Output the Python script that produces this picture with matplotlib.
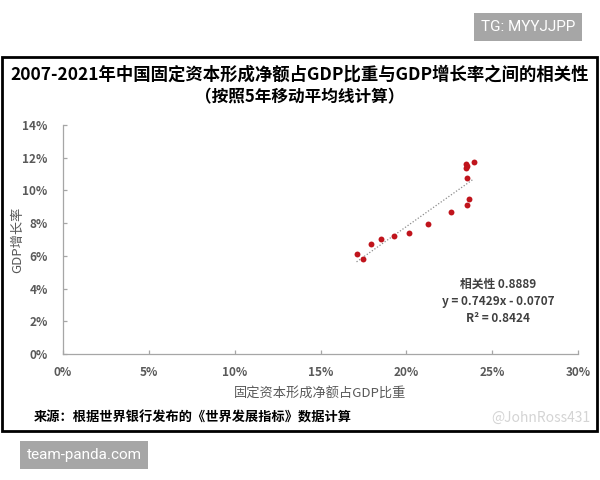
import matplotlib
matplotlib.use("Agg")
import matplotlib.pyplot as plt
from matplotlib.patches import Rectangle
import numpy as np

plt.rcParams['font.family'] = ['Noto Sans CJK SC', 'DejaVu Sans']

# Data (percent)
fcf_share = [17.10, 17.45, 17.94, 18.50, 19.26, 20.13, 21.26, 22.58,
             23.55, 23.66, 23.51, 23.50, 23.45, 23.55, 23.92]
gdp_growth = [6.09, 5.79, 6.70, 7.03, 7.22, 7.41, 7.97, 8.70,
              9.11, 9.47, 10.74, 11.35, 11.60, 11.50, 11.75]
slope = 0.7429
intercept = -0.0707
x_ticks = [0, 5, 10, 15, 20, 25, 30]
y_ticks = [0, 2, 4, 6, 8, 10, 12, 14]

fig = plt.figure(figsize=(6, 4.8), dpi=100)
fig.patch.set_facecolor('white')

# frame box
fig.patches.append(Rectangle((2/600, 1-431/480), 595/600, 374/480,
                             transform=fig.transFigure, fill=False,
                             edgecolor='black', linewidth=2.0))

ax = fig.add_axes([63/600, 1-354/480, 515/600, 229/480])
ax.scatter(fcf_share, gdp_growth, s=18, color='#C0141C', zorder=3, linewidths=0)
xs = np.array([min(fcf_share), max(fcf_share)])
ax.plot(xs, slope*xs + intercept*100, linestyle=(0, (1, 1.5)), color='#8c8c8c',
        linewidth=0.9, zorder=2)

ax.set_xlim(0, 30)
ax.set_ylim(0, 14)
ax.set_xticks(x_ticks)
ax.set_yticks(y_ticks)
ax.set_xticklabels([f'{v}%' for v in x_ticks], fontsize=8.5, fontweight='bold', color='#595959')
ax.set_yticklabels([f'{v}%' for v in y_ticks], fontsize=8.5, fontweight='bold', color='#595959')
for s in ['top', 'right']:
    ax.spines[s].set_visible(False)
for s in ['left', 'bottom']:
    ax.spines[s].set_color('#a6a6a6')
    ax.spines[s].set_linewidth(0.9)
ax.tick_params(axis='both', direction='in', length=3, color='#a6a6a6', width=0.9)
ax.tick_params(axis='y', pad=11)
ax.tick_params(axis='x', pad=9)

ax.set_xlabel('固定资本形成净额占GDP比重', fontsize=9.5, color='#595959', labelpad=6)
ax.set_ylabel('GDP增长率', fontsize=9.5, color='#595959', va='center')
ax.yaxis.set_label_coords(-0.088, 0.5)

# annotation
ax.text(0.845, 0.305, '相关性 0.8889', transform=ax.transAxes, ha='center', va='center',
        fontsize=8.5, color='#404040', fontweight='bold')
ax.text(0.845, 0.23, 'y = 0.7429x - 0.0707', transform=ax.transAxes, ha='center', va='center',
        fontsize=8.5, color='#404040', fontweight='bold')
ax.text(0.845, 0.155, 'R² = 0.8424', transform=ax.transAxes, ha='center', va='center',
        fontsize=8.5, color='#404040', fontweight='bold')

# titles
fig.text(0.5, 1-75/480, '2007-2021年中国固定资本形成净额占GDP比重与GDP增长率之间的相关性',
         ha='center', va='center', fontsize=12.5, fontweight='bold', color='black')
fig.text(0.5, 1-97/480, '（按照5年移动平均线计算）',
         ha='center', va='center', fontsize=12, fontweight='bold', color='black')

# source
fig.text(34/600, 1-418/480, '来源：根据世界银行发布的《世界发展指标》数据计算',
         ha='left', va='center', fontsize=9.5, fontweight='bold', color='black')
fig.text(590/600, 1-418/480, '@JohnRoss431', ha='right', va='center',
         fontsize=10, color='#d4d4d4')

# grey label boxes
fig.text(528/600, 1-27/480, 'TG: MYYJJPP', ha='center', va='center', fontsize=11,
         color='white', family=['Roboto', 'DejaVu Sans'],
         bbox=dict(boxstyle='square,pad=0.45', facecolor='#a6a6a6', edgecolor='none'))
fig.text(84/600, 1-455/480, 'team-panda.com', ha='center', va='center', fontsize=11,
         color='white', family=['Roboto', 'DejaVu Sans'],
         bbox=dict(boxstyle='square,pad=0.45', facecolor='#a6a6a6', edgecolor='none'))

fig.savefig('out.png', dpi=100)
